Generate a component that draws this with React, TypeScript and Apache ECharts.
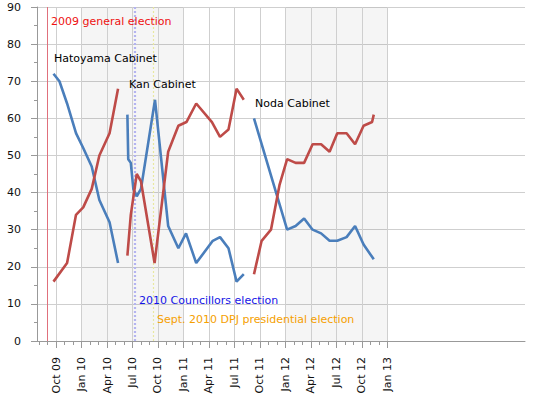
import React, { useEffect, useRef } from "react";
import * as echarts from "echarts";

// month index t: Jan 2009 = 0
const tickPositions = [9, 12, 15, 18, 21, 24, 27, 30, 33, 36, 39, 42, 45, 48];
const tickLabels = ["Oct 09", "Jan 10", "Apr 10", "Jul 10", "Oct 10", "Jan 11", "Apr 11", "Jul 11", "Oct 11", "Jan 12", "Apr 12", "Jul 12", "Oct 12", "Jan 13"];
const monthTicks = Array.from({ length: 42 }, (_, i) => 7 + i);

const hatoyamaSupport = [[8.7, 72], [9.4, 70], [10.3, 64], [11.35, 56], [12.2, 52], [13.2, 47], [14.1, 38], [15.3, 32], [16.3, 21]];
const hatoyamaNonSupport = [[8.7, 16], [10.3, 21], [11.35, 34], [12.2, 36], [13.2, 41], [14.1, 50], [15.3, 56], [16.3, 68]];
const kanSupport = [[17.4, 61], [17.5, 49], [17.8, 48], [18.1, 41], [18.5, 39], [19.0, 41], [20.65, 65], [22.2, 31], [23.4, 25], [24.3, 29], [25.5, 21], [27.45, 27], [28.3, 28], [29.3, 25], [30.25, 16], [31.1, 18]];
const kanNonSupport = [[17.4, 23], [17.8, 34], [18.5, 45], [19.0, 43], [20.6, 21], [22.2, 51], [23.4, 58], [24.35, 59], [25.5, 64], [27.35, 59], [28.3, 55], [29.3, 57], [30.25, 68], [31.1, 65]];
const nodaSupport = [[32.3, 60], [36.2, 30], [37.2, 31], [38.2, 33], [39.2, 30], [40.2, 29], [41.2, 27], [42.1, 27], [43.2, 28], [44.2, 31], [45.2, 26], [46.4, 22]];
const nodaNonSupport = [[32.3, 18], [33.2, 27], [34.3, 30], [35.3, 42], [36.2, 49], [37.2, 48], [38.2, 48], [39.2, 53], [40.2, 53], [41.2, 51], [42.1, 56], [43.2, 56], [44.2, 53], [45.2, 58], [46.2, 59], [46.4, 61]];

const shadedBands = [[12, 24], [36, 48]];
const generalElection = 7.94;
const councillorsElection = 18.3;
const dpjElection = 20.45;

const annotations = [
  { text: "2009 general election", t: 8.41, v: 86.0, color: "#ee1111" },
  { text: "Hatoyama Cabinet", t: 8.76, v: 76.0, color: "#000000" },
  { text: "Kan Cabinet", t: 17.59, v: 69.0, color: "#000000" },
  { text: "Noda Cabinet", t: 32.43, v: 63.9, color: "#000000" },
  { text: "2010 Councillors election", t: 18.77, v: 11.0, color: "#1414e6" },
  { text: "Sept. 2010 DPJ presidential election", t: 20.89, v: 5.9, color: "#f5a000" },
];

const BLUE = "#4a7ebb";
const RED = "#be4b48";
const FONT = "DejaVu Sans";

export default function App() {
  const ref = useRef<HTMLDivElement>(null);
  useEffect(() => {
    const chart = echarts.init(ref.current!, null, { renderer: "svg" });
    const lineSeries = (data: number[][], color: string) => ({
      type: "line",
      data,
      showSymbol: false,
      symbol: "none",
      silent: true,
      z: 5,
      lineStyle: { color, width: 2.6 },
    });
    chart.setOption({
      animation: false,
      textStyle: { fontFamily: FONT },
      grid: { left: 37, right: 25, top: 7, bottom: 60, containLabel: false },
      xAxis: [
        {
          type: "value",
          min: 6.76,
          max: 64.2,
          axisLine: { show: true, lineStyle: { color: "#999999", width: 1 } },
          axisTick: { show: true, length: 7, customValues: tickPositions, lineStyle: { color: "#999999" } },
          axisLabel: {
            show: true,
            customValues: tickPositions,
            rotate: 90,
            margin: 16,
            color: "#111111",
            fontSize: 11,
            fontFamily: FONT,
            formatter: (val: number) => {
              const i = tickPositions.findIndex((p) => Math.abs(p - val) < 0.01);
              return i >= 0 ? tickLabels[i] : "";
            },
          },
          splitLine: { show: false },
        },
        {
          type: "value",
          min: 6.76,
          max: 64.2,
          position: "bottom",
          axisLine: { show: false },
          axisTick: { show: true, length: 4, customValues: monthTicks, lineStyle: { color: "#999999" } },
          axisLabel: { show: false },
          splitLine: { show: false },
        },
      ],
      yAxis: {
        type: "value",
        min: 0,
        max: 90,
        interval: 10,
        axisLine: { show: true, lineStyle: { color: "#999999", width: 1 } },
        axisTick: { show: true, length: 6, lineStyle: { color: "#999999" } },
        minorTick: { show: true, splitNumber: 2, length: 3, lineStyle: { color: "#999999" } },
        axisLabel: { color: "#111111", fontSize: 11, margin: 16, fontFamily: FONT },
        splitLine: { show: true, lineStyle: { color: "#cfcfcf", width: 1 } },
      },
      series: [
        {
          type: "line",
          data: [],
          z: 1,
          silent: true,
          markArea: {
            silent: true,
            itemStyle: { color: "rgba(0,0,0,0.04)" },
            data: shadedBands.map(([a, b]) => [{ xAxis: a }, { xAxis: b }]),
          },
          markLine: {
            silent: true,
            symbol: "none",
            label: { show: false },
            lineStyle: { color: "#cfcfcf", width: 1, type: "solid" },
            data: tickPositions.map((p) => ({ xAxis: p })),
          },
        },
        {
          type: "line",
          data: [],
          z: 3,
          silent: true,
          markLine: {
            silent: true,
            symbol: "none",
            label: { show: false },
            data: [
              { xAxis: generalElection, lineStyle: { color: "#e0707c", width: 1, type: "solid" } },
              { xAxis: councillorsElection, lineStyle: { color: "#b4b4f0", width: 2.2, type: [2, 2] } },
              { xAxis: dpjElection, lineStyle: { color: "#e8e8a0", width: 1.2, type: [2, 2] } },
            ],
          },
        },
        lineSeries(hatoyamaSupport, BLUE),
        lineSeries(hatoyamaNonSupport, RED),
        lineSeries(kanSupport, BLUE),
        lineSeries(kanNonSupport, RED),
        lineSeries(nodaSupport, BLUE),
        lineSeries(nodaNonSupport, RED),
        {
          type: "scatter",
          silent: true,
          z: 6,
          symbolSize: 0,
          itemStyle: { opacity: 1 },
          data: annotations.map((a) => ({
            value: [a.t, a.v],
            itemStyle: { opacity: 1 },
            label: {
              show: true,
              position: "right",
              distance: 0,
              formatter: a.text,
              color: a.color,
              opacity: 1,
              fontSize: 11,
              fontFamily: FONT,
            },
          })),
        },
      ],
    });
    return () => chart.dispose();
  }, []);
  return <div ref={ref} style={{ position: "absolute", left: 0, top: 0, width: 550, height: 401 }} />;
}
